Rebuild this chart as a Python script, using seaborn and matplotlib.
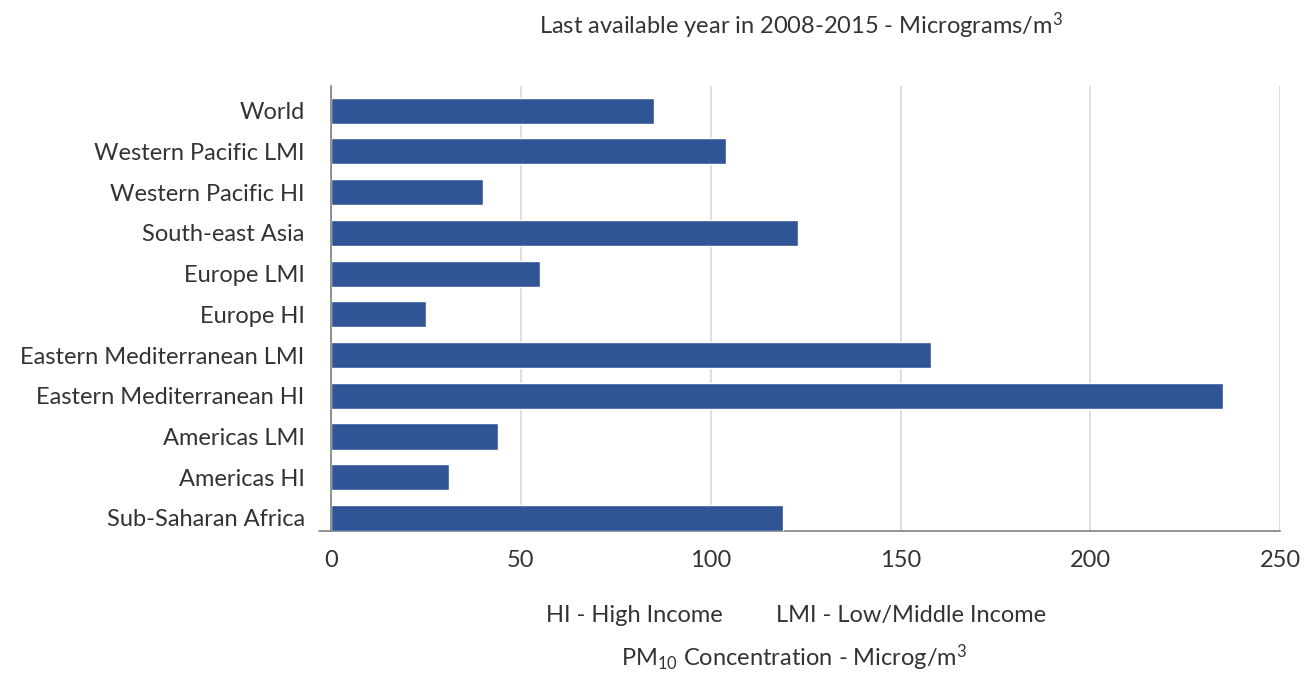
import numpy as np
import pandas as pd
import matplotlib.pyplot as plt
import seaborn as sns
from matplotlib.lines import Line2D

regions = ["World", "Western Pacific LMI", "Western Pacific HI", "South-east Asia",
           "Europe LMI", "Europe HI", "Eastern Mediterranean LMI",
           "Eastern Mediterranean HI", "Americas LMI", "Americas HI",
           "Sub-Saharan Africa"]
pm10 = [85, 104, 40, 123, 55, 25, 158, 235, 44, 31, 119]
x_ticks = [0, 50, 100, 150, 200, 250]

df = pd.DataFrame({"region": regions, "pm10": pm10})

sns.set_style("white")
plt.rcParams["font.family"] = ["Lato", "DejaVu Sans"]
plt.rcParams["mathtext.fontset"] = "custom"
plt.rcParams["mathtext.rm"] = "Lato"
plt.rcParams["mathtext.it"] = "Lato:italic"
plt.rcParams["mathtext.bf"] = "Lato:bold"
text_col = "#333333"
fs = 17

fig = plt.figure(figsize=(13.11, 6.73), dpi=100)
ax = fig.add_axes([0.2525, 0.211, 0.724, 0.661])

sns.barplot(data=df, x="pm10", y="region", orient="h", color="#2F5597",
            saturation=1, width=0.64, ax=ax, zorder=3)

ax.set_xlim(0, 250)
ax.set_ylim(10.32, -0.6)
ax.set_xticks(x_ticks)
ax.xaxis.grid(True, color="#d9d9d9", linewidth=1.2, zorder=0)
ax.yaxis.grid(False)
ax.set_axisbelow(True)

for s in ["top", "right"]:
    ax.spines[s].set_visible(False)
for s in ["left", "bottom"]:
    ax.spines[s].set_color("#808080")
    ax.spines[s].set_linewidth(1.2)
ax.spines["left"].set_zorder(4)

# bottom line sticks out a bit to the left of the y axis
ax.add_line(Line2D([-0.013, 0], [0, 0], transform=ax.transAxes, color="#808080",
                   linewidth=1.2, clip_on=False))

ax.tick_params(axis="x", length=0, pad=14, labelsize=fs, labelcolor=text_col)
ax.tick_params(axis="y", length=0, pad=19, labelsize=fs, labelcolor=text_col)
ax.set_xlabel("")
ax.set_ylabel("")

fig.text(0.611, 0.962, "Last available year in 2008-2015 - Micrograms/m$^3$",
         ha="center", va="center", fontsize=fs, color=text_col)
fig.text(0.4836, 0.086, "HI - High Income", ha="center", va="center",
         fontsize=fs, color=text_col)
fig.text(0.695, 0.086, "LMI - Low/Middle Income", ha="center", va="center",
         fontsize=fs, color=text_col)
fig.text(0.6056, 0.022, "PM$_{10}$ Concentration - Microg/m$^3$", ha="center",
         va="center", fontsize=fs, color=text_col)

plt.savefig("out.png", dpi=100)
